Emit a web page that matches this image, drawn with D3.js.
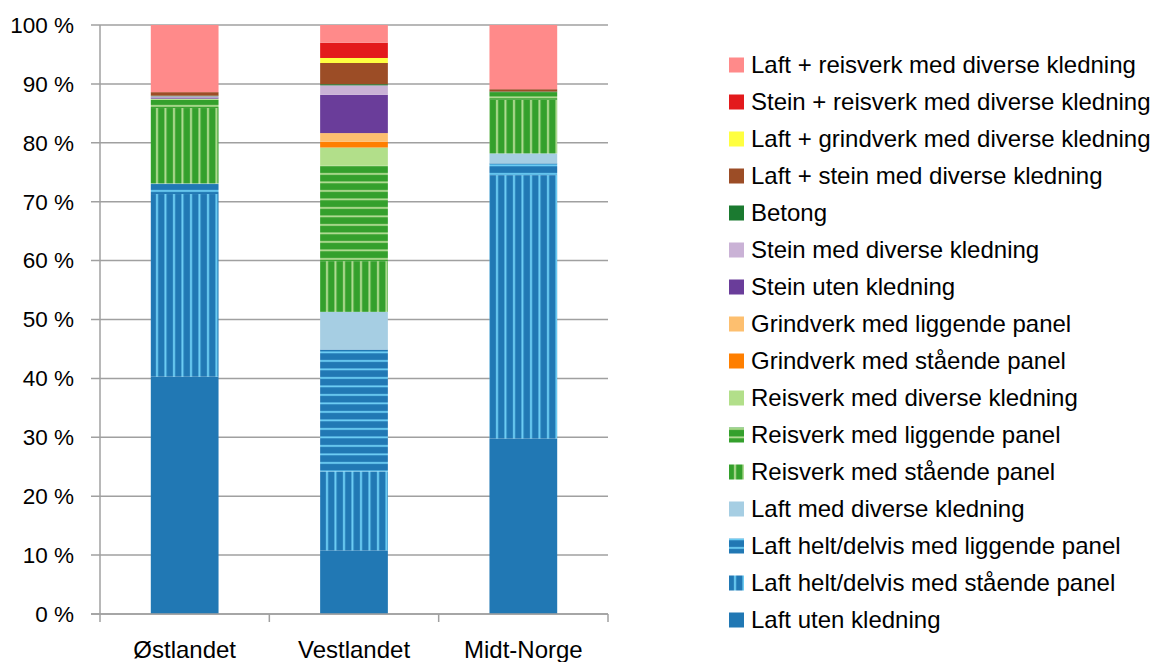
<!DOCTYPE html>
<html>
<head>
<meta charset="utf-8">
<script src="https://cdn.jsdelivr.net/npm/d3@7"></script>
<style>
  html, body { margin: 0; padding: 0; background: #fff; }
  svg { display: block; }
  text { font-family: "Liberation Sans", Arial, sans-serif; fill: #000; }
</style>
</head>
<body>
<svg id="chart" width="1159" height="662"></svg>
<script>
// ---- Data ----
const categories = ["Østlandet", "Vestlandet", "Midt-Norge"];
const seriesNames = [
  "Laft uten kledning",
  "Laft helt/delvis med stående panel",
  "Laft helt/delvis med liggende panel",
  "Laft med diverse kledning",
  "Reisverk med stående panel",
  "Reisverk med liggende panel",
  "Reisverk med diverse kledning",
  "Grindverk med stående panel",
  "Grindverk med liggende panel",
  "Stein uten kledning",
  "Stein med diverse kledning",
  "Betong",
  "Laft + stein med diverse kledning",
  "Laft + grindverk med diverse kledning",
  "Stein + reisverk med diverse kledning",
  "Laft + reisverk med diverse kledning"
];
// percent values per series, in category order [Østlandet, Vestlandet, Midt-Norge]
const laftUten        = [40.3, 10.8, 29.8];
const laftStaende     = [31.0, 13.4, 44.7];
const laftLiggende    = [1.7, 20.7, 2.0];
const laftDiverse     = [0.1, 6.4, 1.7];
const reisStaende     = [12.8, 8.6, 9.1];
const reisLiggende    = [1.4, 16.2, 1.3];
const reisDiverse     = [0.2, 3.1, 0.0];
const grindStaende    = [0.0, 1.0, 0.0];
const grindLiggende   = [0.0, 1.45, 0.0];
const steinUten       = [0.2, 6.5, 0.0];
const steinDiverse    = [0.2, 1.6, 0.0];
const betong          = [0.1, 0.2, 0.1];
const laftStein       = [0.6, 3.6, 0.4];
const laftGrind       = [0.0, 0.85, 0.0];
const steinReis       = [0.0, 2.6, 0.0];
const laftReis        = [11.4, 3.0, 10.9];
const yTicks = [0, 10, 20, 30, 40, 50, 60, 70, 80, 90, 100];

const seriesValues = [laftUten, laftStaende, laftLiggende, laftDiverse, reisStaende, reisLiggende,
  reisDiverse, grindStaende, grindLiggende, steinUten, steinDiverse, betong, laftStein,
  laftGrind, steinReis, laftReis];

// ---- Styles ----
const BLUE = "#2178b4", LBLUE = "#6fd0f6", GREEN = "#34a02c", LGREEN = "#b5dd96";
const fills = [
  {base: BLUE},
  {base: BLUE, line: LBLUE, dir: "v"},
  {base: BLUE, line: LBLUE, dir: "h"},
  {base: "#a6cee3"},
  {base: GREEN, line: LGREEN, dir: "v"},
  {base: GREEN, line: LGREEN, dir: "h"},
  {base: "#b2df8a"},
  {base: "#ff7f00"},
  {base: "#fdbf6f"},
  {base: "#6a3d9a"},
  {base: "#cab2d6"},
  {base: "#1b7a30"},
  {base: "#9c4d26"},
  {base: "#ffff40"},
  {base: "#e31a1c"},
  {base: "#ff8a8a"}
];

const svg = d3.select("#chart");
const defs = svg.append("defs");
fills.forEach((f, i) => {
  if (!f.line) { f.paint = f.base; return; }
  const id = "pat" + i;
  const step = 8.5;
  const p = defs.append("pattern").attr("id", id).attr("patternUnits", "userSpaceOnUse")
    .attr("width", step).attr("height", step);
  p.append("rect").attr("width", step).attr("height", step).attr("fill", f.base);
  if (f.dir === "v") {
    p.append("rect").attr("x", 3).attr("y", 0).attr("width", 2).attr("height", step).attr("fill", f.line);
  } else {
    p.append("rect").attr("x", 0).attr("y", 3).attr("width", step).attr("height", 1.8).attr("fill", f.line);
  }
  f.paint = `url(#${id})`;
});

// ---- Layout ----
const plot = {left: 100, right: 608, top: 25, bottom: 614};
const x = d3.scaleBand().domain(categories).range([plot.left, plot.right]).paddingInner(0.6).paddingOuter(0.3);
const xOuter = d3.scaleBand().domain(categories).range([plot.left, plot.right]);
const y = d3.scaleLinear().domain([0, 100]).range([plot.bottom, plot.top]);

// gridlines
svg.append("g").selectAll("line").data(yTicks).join("line")
  .attr("x1", plot.left - 9).attr("x2", plot.right)
  .attr("y1", d => y(d)).attr("y2", d => y(d))
  .attr("stroke", "#a0a0a0").attr("stroke-width", 1.5);

// y-axis line
svg.append("line").attr("x1", plot.left).attr("x2", plot.left)
  .attr("y1", plot.top).attr("y2", plot.bottom)
  .attr("stroke", "#a0a0a0").attr("stroke-width", 1.5);

// y labels
svg.append("g").selectAll("text").data(yTicks).join("text")
  .attr("x", 74).attr("y", d => y(d)).attr("dy", "0.35em")
  .attr("text-anchor", "end").attr("font-size", 22.5)
  .text(d => d + " %");

// stacked bars
const table = categories.map((c, ci) => {
  const o = {cat: c};
  seriesNames.forEach((s, si) => o[s] = seriesValues[si][ci]);
  return o;
});
const stacked = d3.stack().keys(seriesNames)(table);
stacked.forEach((layer, si) => {
  svg.append("g").selectAll("rect").data(layer.filter(d => d[1] - d[0] > 0)).join("rect")
    .attr("x", d => x(d.data.cat))
    .attr("width", x.bandwidth())
    .attr("y", d => y(d[1]))
    .attr("height", d => y(d[0]) - y(d[1]))
    .attr("fill", fills[si].paint);
});

// x axis
svg.append("line").attr("x1", plot.left - 9).attr("x2", plot.right)
  .attr("y1", plot.bottom).attr("y2", plot.bottom)
  .attr("stroke", "#a0a0a0").attr("stroke-width", 1.5);
const xTickPos = categories.map(c => xOuter(c)).concat([plot.right]);
svg.append("g").selectAll("line").data(xTickPos).join("line")
  .attr("x1", d => d).attr("x2", d => d)
  .attr("y1", plot.bottom).attr("y2", plot.bottom + 8)
  .attr("stroke", "#a0a0a0").attr("stroke-width", 1.5);
svg.append("g").selectAll("text").data(categories).join("text")
  .attr("x", d => xOuter(d) + xOuter.bandwidth() / 2)
  .attr("y", 658).attr("text-anchor", "middle").attr("font-size", 24)
  .text(d => d);

// legend (reverse order, top = last series)
const legendOrder = seriesNames.map((s, i) => i).reverse();
const lg = svg.append("g");
legendOrder.forEach((si, k) => {
  const cy = 65 + k * 37;
  lg.append("rect").attr("x", 729).attr("y", cy - 7.5).attr("width", 15).attr("height", 15)
    .attr("fill", fills[si].paint);
  lg.append("text").attr("x", 751).attr("y", cy).attr("dy", "0.34em")
    .attr("font-size", 24).text(seriesNames[si]);
});
</script>
</body>
</html>
